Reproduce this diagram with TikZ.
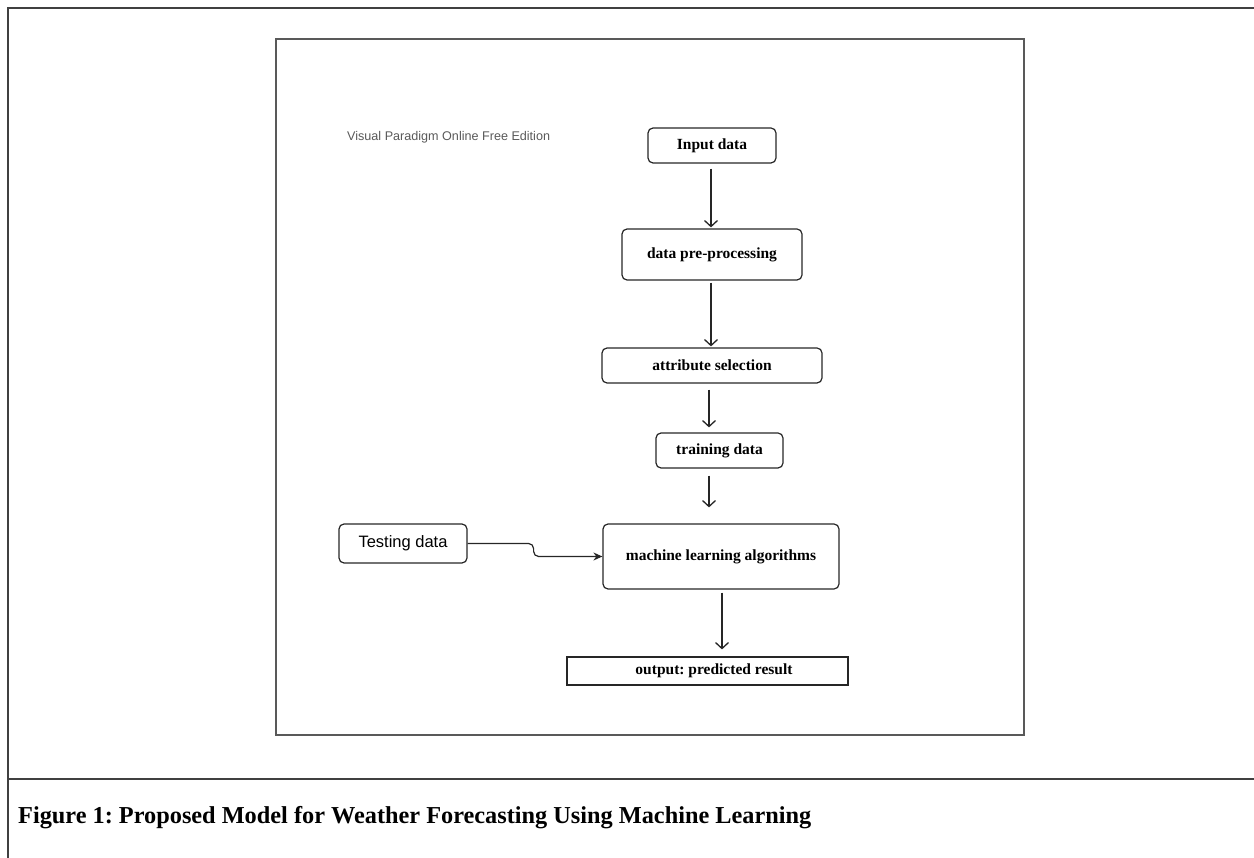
\documentclass[tikz,border=0pt]{standalone}
\usepackage{fontspec}
\setmainfont{Liberation Serif}
\newfontfamily\arialf{Liberation Sans}
\usetikzlibrary{arrows.meta}
\begin{document}
\frenchspacing
\begin{tikzpicture}[x=1pt,y=-1pt,
  box/.style={draw=black!85, rounded corners=5pt, line width=1.2pt, inner sep=0pt,
              font=\fontsize{15.5}{18}\selectfont\bfseries},
  outbox/.style={draw=black!85, line width=1.2pt, inner sep=0pt,
              font=\fontsize{15.5}{18}\selectfont\bfseries},
  sbox/.style={draw=black!85, rounded corners=5pt, line width=1.2pt, inner sep=0pt,
              font=\fontsize{16.5}{19}\selectfont\arialf},
  arr/.style={draw=black!85, line width=1.3pt, -{Straight Barb[length=6pt,width=13pt]}},
  conn/.style={draw=black!85, line width=1.2pt, rounded corners=5pt, -{Stealth[length=9pt,width=8pt]}},
  frame/.style={draw=black!75, line width=1.8pt},
  inner/.style={draw=black!65, line width=1.3pt}
]
\useasboundingbox (0,0) rectangle (1254,858);
% outer frame
\draw[frame] (1254,8) -- (8,8) -- (8,858);
\draw[frame] (8,779) -- (1254,779);
% inner frame
\draw[inner] (276,39) rectangle (1024,735);
% watermark
\node[anchor=west, text=black!65, font=\fontsize{12.6}{15}\selectfont\arialf, inner sep=0pt] (wm) at (347,137) {Visual Paradigm Online Free Edition};
% nodes
\node[box, minimum width=128pt, minimum height=35pt] (inp) at (712,145.5) {Input data};
\node[box, minimum width=180pt, minimum height=51pt] (pre) at (712,254.5) {data pre-processing};
\node[box, minimum width=220pt, minimum height=35pt] (attr) at (712,365.5) {attribute selection};
\node[box, minimum width=127pt, minimum height=35pt] (train) at (719.5,450.5) {training data};
\node[box, minimum width=236pt, minimum height=65pt] (ml) at (721,556.5) {machine learning algorithms};
\node[sbox, minimum width=128pt, minimum height=39pt] (test) at (403,543.5) {Testing data};
\node[outbox, minimum width=281pt, minimum height=28pt] (out) at (707.5,671) {\hspace{13pt}output: predicted result};
% connectors
\draw[arr, shorten <=5pt, shorten >=1pt] ([xshift=-1pt]inp.south) -- ([xshift=-1pt]inp.south |- pre.north);
\draw[arr, shorten <=2pt, shorten >=1pt] ([xshift=-1pt]pre.south) -- ([xshift=-1pt]pre.south |- attr.north);
\draw[arr, shorten <=6pt, shorten >=5pt] ([xshift=-3pt]attr.south) -- ([xshift=-3pt]attr.south |- train.north);
\draw[arr, shorten <=7pt, shorten >=16pt] ([xshift=-10.5pt]train.south) -- ([xshift=-10.5pt]train.south |- ml.north);
\draw[arr, shorten <=3pt, shorten >=7pt] ([xshift=1pt]ml.south) -- ([xshift=1pt]ml.south |- out.north);
\draw[conn] (test.east) -- ++(66,0) |- (ml.west);
% caption
\node[anchor=west, inner sep=0pt, font=\fontsize{24.3}{28}\selectfont\bfseries] (cap) at (18,818) {Figure 1: Proposed Model for Weather Forecasting Using Machine Learning};
\end{tikzpicture}
\end{document}
